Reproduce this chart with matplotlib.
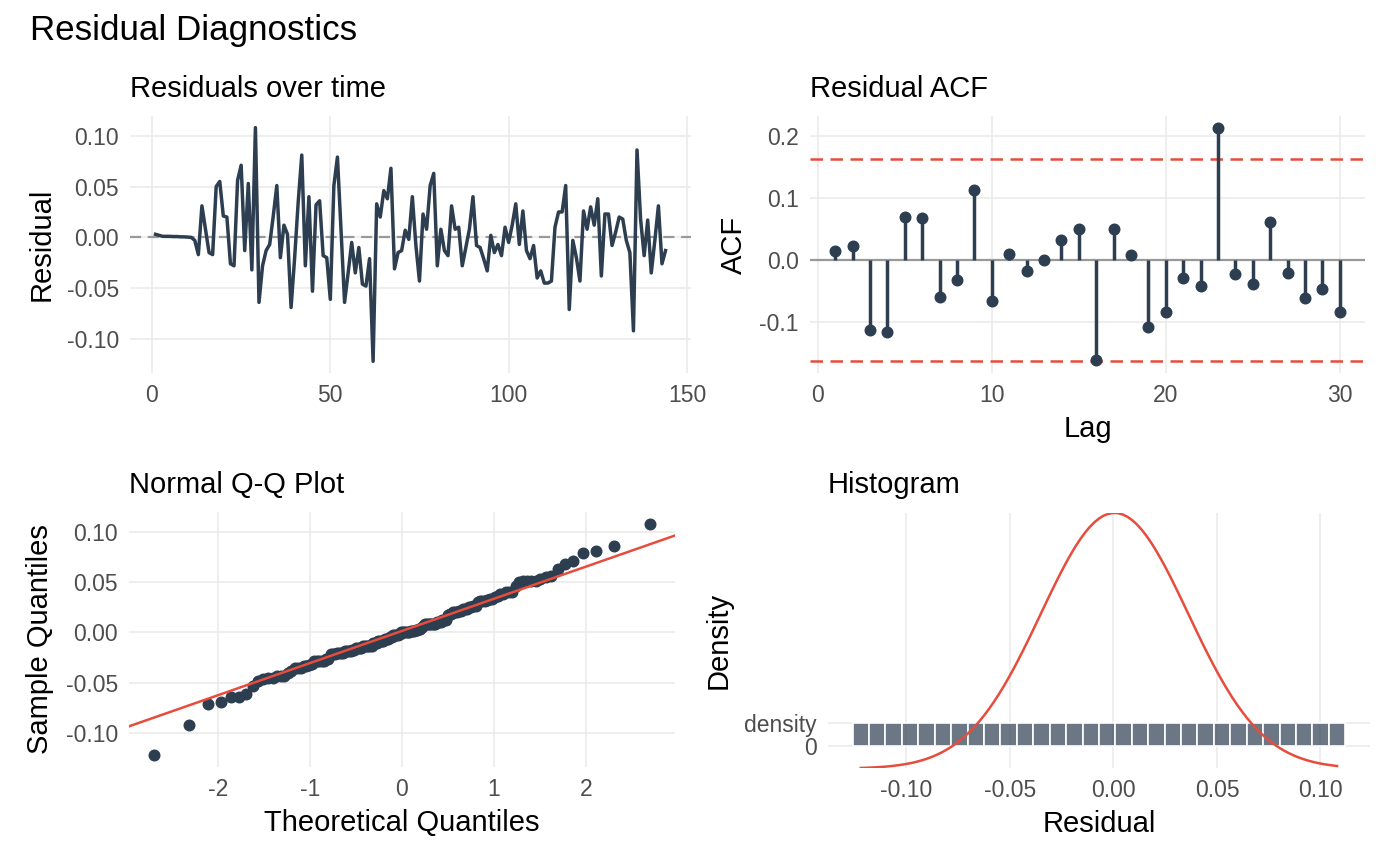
import matplotlib
matplotlib.use('Agg')
import matplotlib.pyplot as plt
from matplotlib.ticker import FormatStrFormatter
import numpy as np
from statistics import NormalDist

plt.rcParams['font.family'] = ['Liberation Sans', 'DejaVu Sans']
plt.rcParams['axes.unicode_minus'] = False

resid = [
    0.003, 0.002, 0.001, 0.001, 0.001, 0.0008, 0.0008, 0.0005, 0.0005, 0.0003,
    0.0, -0.003, -0.017, 0.031, 0.008, -0.015, -0.017, 0.050, 0.055, 0.021,
    0.020, -0.026, -0.028, 0.056, 0.071, -0.013, 0.053, -0.032, 0.108, -0.064,
    -0.028, -0.013, -0.007, 0.021, 0.051, -0.020, 0.012, 0.003, -0.069, -0.020,
    0.035, 0.081, -0.028, 0.040, -0.053, 0.032, 0.036, -0.018, -0.020, -0.061,
    0.051, 0.079, 0.008, -0.064, -0.035, -0.005, -0.035, -0.010, -0.046, -0.048,
    -0.021, -0.122, 0.033, 0.020, 0.046, 0.038, 0.068, -0.031, -0.015, -0.013,
    0.007, -0.002, 0.040, -0.008, -0.043, 0.023, 0.008, 0.051, 0.063, -0.028,
    0.008, -0.013, -0.018, 0.031, 0.008, 0.010, -0.028, -0.010, 0.008, 0.040,
    -0.008, -0.010, -0.021, -0.033, 0.002, -0.015, -0.007, -0.018, 0.010, -0.005,
    0.012, 0.033, -0.007, 0.026, -0.013, -0.021, -0.008, -0.040, -0.033, -0.045,
    -0.045, -0.043, 0.010, 0.025, 0.025, 0.051, -0.071, -0.003, -0.020, -0.043,
    0.026, 0.008, 0.030, 0.012, 0.038, -0.038, 0.023, 0.023, -0.008, 0.005,
    0.020, 0.018, -0.003, -0.015, -0.092, 0.086, 0.018, -0.018, 0.017, -0.035,
    -0.003, 0.031, -0.026, -0.013,
]

acf_lag = list(range(1, 31))
acf_val = [
    0.014, 0.023, -0.112, -0.116, 0.069, 0.068, -0.059, -0.032, 0.114, -0.066,
    0.010, -0.018, 0.000, 0.032, 0.050, -0.162, 0.050, 0.009, -0.108, -0.083,
    -0.029, -0.041, 0.214, -0.023, -0.039, 0.062, -0.020, -0.061, -0.047, -0.083,
]

navy = '#2C3E50'
red = '#E74C3C'
grid_col = '#EBEBEB'
tick_col = '#4D4D4D'

TICK = 16.5
LAB = 21
TTL = 21


def style(ax):
    for s in ax.spines.values():
        s.set_visible(False)
    ax.grid(True, color=grid_col, linewidth=1.2)
    ax.set_axisbelow(True)
    ax.tick_params(length=0, labelsize=TICK, colors=tick_col, pad=8)


fig = plt.figure(figsize=(14, 8.66), dpi=100)
fig.text(30 / 1400, 1 - 40 / 866, 'Residual Diagnostics', fontsize=25.2, va='baseline')

r = np.array(resid)
n = len(r)
t = np.arange(1, n + 1)

# --- residuals over time
ax1 = fig.add_axes([0.0929, 0.5693, 0.4007, 0.2968])
style(ax1)
ax1.axhline(0, color='#999999', ls=(0, (5, 3)), lw=1.6)
ax1.plot(t, r, color=navy, lw=2.5)
ax1.set_xticks([0, 50, 100, 150])
ax1.set_yticks([-0.1, -0.05, 0, 0.05, 0.1])
ax1.yaxis.set_major_formatter(FormatStrFormatter('%.2f'))
ax1.set_ylabel('Residual', fontsize=LAB, labelpad=8)
ax1.set_title('Residuals over time', loc='left', fontsize=TTL, pad=14)

# --- ACF
bound = 1.96 / np.sqrt(n)
ax2 = fig.add_axes([0.5786, 0.5693, 0.3964, 0.2968])
style(ax2)
ax2.axhline(0, color='#999999', lw=1.6)
ax2.axhline(bound, color=red, ls=(0, (5, 3)), lw=1.8)
ax2.axhline(-bound, color=red, ls=(0, (5, 3)), lw=1.8)
ax2.vlines(acf_lag, 0, acf_val, color=navy, lw=2.5)
ax2.scatter(acf_lag, acf_val, s=58, color=navy, zorder=3)
ax2.set_xticks([0, 10, 20, 30])
ax2.set_yticks([-0.1, 0, 0.1, 0.2])
ax2.yaxis.set_major_formatter(FormatStrFormatter('%.1f'))
ax2.set_xlabel('Lag', fontsize=LAB, labelpad=6)
ax2.set_ylabel('ACF', fontsize=LAB, labelpad=8)
ax2.set_title('Residual ACF', loc='left', fontsize=TTL, pad=14)

# --- Q-Q
nd = NormalDist()
theo = np.array([nd.inv_cdf((i - 0.5) / n) for i in range(1, n + 1)])
samp = np.sort(r)
qs = np.percentile(samp, [25, 75])
qt = [nd.inv_cdf(0.25), nd.inv_cdf(0.75)]
slope = (qs[1] - qs[0]) / (qt[1] - qt[0])
ax3 = fig.add_axes([0.0921, 0.1143, 0.39, 0.2945])
style(ax3)
ax3.scatter(theo, samp, s=58, color=navy, zorder=3)
ax3.axline((qt[0], qs[0]), slope=slope, color=red, lw=1.8, zorder=4)
ax3.set_xticks([-2, -1, 0, 1, 2])
ax3.set_yticks([-0.1, -0.05, 0, 0.05, 0.1])
ax3.yaxis.set_major_formatter(FormatStrFormatter('%.2f'))
ax3.set_xlabel('Theoretical Quantiles', fontsize=LAB, labelpad=6)
ax3.set_ylabel('Sample Quantiles', fontsize=LAB, labelpad=8)
ax3.set_title('Normal Q-Q Plot', loc='left', fontsize=TTL, pad=14)

# --- histogram (discrete y axis: "0" and "density")
lo, hi = r.min(), r.max()
bw = (hi - lo) / 29
centers = lo + bw * np.arange(30)
xs = np.linspace(lo, hi, 101)
sd = r.std(ddof=1)
ys = np.exp(-0.5 * ((xs - r.mean()) / sd) ** 2) / (sd * np.sqrt(2 * np.pi))
ax4 = fig.add_axes([0.5914, 0.1132, 0.3871, 0.2945])
style(ax4)
ax4.bar(centers, 1, width=bw, bottom=1, color=(44 / 255, 62 / 255, 80 / 255, 0.7),
        edgecolor='white', lw=1.2)
ax4.plot(xs, ys, color=red, lw=1.8)
ax4.set_ylim(min(ys.min(), 0.4), max(ys.max(), 2.6))
ax4.set_yticks([1, 2])
ax4.set_yticklabels(['0', 'density'])
ax4.set_xticks([-0.1, -0.05, 0, 0.05, 0.1])
ax4.xaxis.set_major_formatter(FormatStrFormatter('%.2f'))
ax4.set_xlabel('Residual', fontsize=LAB, labelpad=6)
ax4.set_ylabel('Density', fontsize=LAB, labelpad=8)
ax4.set_title('Histogram', loc='left', fontsize=TTL, pad=14)

fig.savefig('out.png', dpi=100)
